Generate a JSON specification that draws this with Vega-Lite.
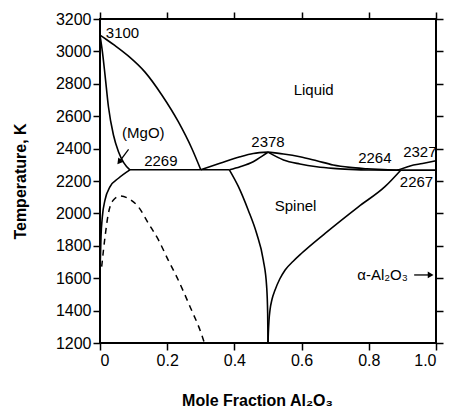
{
  "$schema": "https://vega.github.io/schema/vega-lite/v6.json",
  "width": 336,
  "height": 324,
  "autosize": "none",
  "padding": {"left": 100, "top": 19, "right": 13, "bottom": 66},
  "background": "white",
  "config": {
    "view": {"stroke": "black", "strokeWidth": 2},
    "axis": {
      "grid": false,
      "domain": false,
      "tickColor": "black",
      "tickSize": 7,
      "tickWidth": 1.5,
      "labelColor": "black",
      "labelFont": "Liberation Sans",
      "labelFontSize": 16,
      "labelPadding": 2,
      "titleFont": "Liberation Sans",
      "titleFontWeight": "bold",
      "titleFontSize": 16,
      "titleColor": "black"
    }
  },
  "datasets": {
    "curves": [
      {"c": "liqMgO", "i": 0, "x": 0, "T": 3100},
      {"c": "liqMgO", "i": 1, "x": 0.02, "T": 3072},
      {"c": "liqMgO", "i": 2, "x": 0.045, "T": 3035},
      {"c": "liqMgO", "i": 3, "x": 0.084, "T": 2972},
      {"c": "liqMgO", "i": 4, "x": 0.134, "T": 2872},
      {"c": "liqMgO", "i": 5, "x": 0.184, "T": 2731},
      {"c": "liqMgO", "i": 6, "x": 0.233, "T": 2566},
      {"c": "liqMgO", "i": 7, "x": 0.273, "T": 2402},
      {"c": "liqMgO", "i": 8, "x": 0.30, "T": 2269},
      {"c": "solMgO", "i": 0, "x": 0, "T": 3100},
      {"c": "solMgO", "i": 1, "x": 0.007, "T": 3000},
      {"c": "solMgO", "i": 2, "x": 0.015, "T": 2854},
      {"c": "solMgO", "i": 3, "x": 0.025, "T": 2660},
      {"c": "solMgO", "i": 4, "x": 0.04, "T": 2484},
      {"c": "solMgO", "i": 5, "x": 0.055, "T": 2381},
      {"c": "solMgO", "i": 6, "x": 0.07, "T": 2315},
      {"c": "solMgO", "i": 7, "x": 0.089, "T": 2269},
      {"c": "solvMgO", "i": 6, "x": 0.089, "T": 2269},
      {"c": "solvMgO", "i": 5, "x": 0.055, "T": 2217},
      {"c": "solvMgO", "i": 4, "x": 0.03, "T": 2165},
      {"c": "solvMgO", "i": 3, "x": 0.015, "T": 2083},
      {"c": "solvMgO", "i": 2, "x": 0.007, "T": 1980},
      {"c": "solvMgO", "i": 1, "x": 0.003, "T": 1856},
      {"c": "solvMgO", "i": 0, "x": 0.001, "T": 1712},
      {"c": "eut1", "i": 0, "x": 0.089, "T": 2269},
      {"c": "eut1", "i": 1, "x": 0.385, "T": 2269},
      {"c": "liqSpL", "i": 0, "x": 0.30, "T": 2269},
      {"c": "liqSpL", "i": 1, "x": 0.357, "T": 2309},
      {"c": "liqSpL", "i": 2, "x": 0.417, "T": 2350},
      {"c": "liqSpL", "i": 3, "x": 0.456, "T": 2370},
      {"c": "liqSpL", "i": 4, "x": 0.5, "T": 2378},
      {"c": "solSpL", "i": 0, "x": 0.385, "T": 2269},
      {"c": "solSpL", "i": 1, "x": 0.417, "T": 2288},
      {"c": "solSpL", "i": 2, "x": 0.456, "T": 2319},
      {"c": "solSpL", "i": 3, "x": 0.486, "T": 2358},
      {"c": "solSpL", "i": 4, "x": 0.5, "T": 2378},
      {"c": "liqSpR", "i": 0, "x": 0.5, "T": 2378},
      {"c": "liqSpR", "i": 1, "x": 0.546, "T": 2367},
      {"c": "liqSpR", "i": 2, "x": 0.595, "T": 2350},
      {"c": "liqSpR", "i": 3, "x": 0.645, "T": 2325},
      {"c": "liqSpR", "i": 4, "x": 0.694, "T": 2299},
      {"c": "liqSpR", "i": 5, "x": 0.744, "T": 2284},
      {"c": "liqSpR", "i": 6, "x": 0.794, "T": 2276},
      {"c": "liqSpR", "i": 7, "x": 0.843, "T": 2270},
      {"c": "liqSpR", "i": 8, "x": 0.885, "T": 2266},
      {"c": "solSpR", "i": 0, "x": 0.5, "T": 2378},
      {"c": "solSpR", "i": 1, "x": 0.546, "T": 2330},
      {"c": "solSpR", "i": 2, "x": 0.595, "T": 2305},
      {"c": "solSpR", "i": 3, "x": 0.645, "T": 2288},
      {"c": "solSpR", "i": 4, "x": 0.694, "T": 2278},
      {"c": "solSpR", "i": 5, "x": 0.744, "T": 2272},
      {"c": "solSpR", "i": 6, "x": 0.8, "T": 2268},
      {"c": "solSpR", "i": 7, "x": 0.895, "T": 2267},
      {"c": "liqAl", "i": 0, "x": 0.885, "T": 2266},
      {"c": "liqAl", "i": 1, "x": 0.923, "T": 2293},
      {"c": "liqAl", "i": 2, "x": 0.96, "T": 2308},
      {"c": "liqAl", "i": 3, "x": 1.0, "T": 2325},
      {"c": "eut2", "i": 0, "x": 0.885, "T": 2267},
      {"c": "eut2", "i": 1, "x": 1.0, "T": 2267},
      {"c": "spL", "i": 0, "x": 0.385, "T": 2269},
      {"c": "spL", "i": 1, "x": 0.412, "T": 2165},
      {"c": "spL", "i": 2, "x": 0.441, "T": 2021},
      {"c": "spL", "i": 3, "x": 0.466, "T": 1877},
      {"c": "spL", "i": 4, "x": 0.486, "T": 1712},
      {"c": "spL", "i": 5, "x": 0.496, "T": 1548},
      {"c": "spL", "i": 6, "x": 0.499, "T": 1383},
      {"c": "spL", "i": 7, "x": 0.5, "T": 1200},
      {"c": "spR", "i": 0, "x": 0.5, "T": 1200},
      {"c": "spR", "i": 1, "x": 0.501, "T": 1260},
      {"c": "spR", "i": 2, "x": 0.503, "T": 1340},
      {"c": "spR", "i": 3, "x": 0.506, "T": 1404},
      {"c": "spR", "i": 4, "x": 0.512, "T": 1470},
      {"c": "spR", "i": 5, "x": 0.521, "T": 1527},
      {"c": "spR", "i": 6, "x": 0.535, "T": 1595},
      {"c": "spR", "i": 7, "x": 0.551, "T": 1651},
      {"c": "spR", "i": 8, "x": 0.575, "T": 1705},
      {"c": "spR", "i": 9, "x": 0.6, "T": 1754},
      {"c": "spR", "i": 10, "x": 0.67, "T": 1877},
      {"c": "spR", "i": 11, "x": 0.769, "T": 2041},
      {"c": "spR", "i": 12, "x": 0.848, "T": 2165},
      {"c": "spR", "i": 13, "x": 0.895, "T": 2267}
    ],
    "dashed": [
      {"i": 0, "x": 0.005, "T": 1671},
      {"i": 1, "x": 0.015, "T": 1856},
      {"i": 2, "x": 0.025, "T": 2000},
      {"i": 3, "x": 0.04, "T": 2083},
      {"i": 4, "x": 0.06, "T": 2107},
      {"i": 5, "x": 0.084, "T": 2093},
      {"i": 6, "x": 0.114, "T": 2041},
      {"i": 7, "x": 0.144, "T": 1939},
      {"i": 8, "x": 0.174, "T": 1836},
      {"i": 9, "x": 0.203, "T": 1712},
      {"i": 10, "x": 0.228, "T": 1610},
      {"i": 11, "x": 0.268, "T": 1424},
      {"i": 12, "x": 0.303, "T": 1249},
      {"i": 13, "x": 0.31, "T": 1205}
    ],
    "labels": [
      {"t": "3100", "x": 0.067, "T": 3114},
      {"t": "(MgO)", "x": 0.129, "T": 2494},
      {"t": "2269", "x": 0.181, "T": 2325},
      {"t": "Liquid", "x": 0.636, "T": 2762},
      {"t": "2378", "x": 0.5, "T": 2438},
      {"t": "2264", "x": 0.818, "T": 2340},
      {"t": "2327", "x": 0.952, "T": 2381},
      {"t": "2267", "x": 0.942, "T": 2191},
      {"t": "Spinel", "x": 0.582, "T": 2046},
      {"t": "α-Al₂O₃", "x": 0.841, "T": 1620}
    ],
    "arrows": [
      {"a": "MgO", "i": 0, "x": 0.085, "T": 2395},
      {"a": "MgO", "i": 1, "x": 0.055, "T": 2312},
      {"a": "Al2O3", "i": 0, "x": 0.935, "T": 1620},
      {"a": "Al2O3", "i": 1, "x": 0.985, "T": 1620}
    ],
    "heads": [
      {"a": "MgO", "x": 0.057, "T": 2318},
      {"a": "Al2O3", "x": 0.984, "T": 1620}
    ]
  },
  "resolve": {"axis": {"x": "independent", "y": "independent"}},
  "layer": [
    {
      "data": {"name": "curves"},
      "mark": {"type": "line", "color": "black", "strokeWidth": 1.6, "interpolate": "monotone"},
      "encoding": {
        "x": {
          "field": "x", "type": "quantitative",
          "scale": {"domain": [0, 1], "nice": false, "zero": false},
          "axis": {
            "orient": "bottom",
            "values": [0, 0.2, 0.4, 0.6, 0.8, 1],
            "labelExpr": "datum.value == 0 ? '0' : format(datum.value, '.1f')",
            "title": "Mole Fraction Al₂O₃",
            "titleX": 157,
            "titleY": 62,
            "titleAnchor": null,
            "titleAlign": "center",
            "titleBaseline": "alphabetic"
          }
        },
        "y": {
          "field": "T", "type": "quantitative",
          "scale": {"domain": [1200, 3200], "nice": false, "zero": false},
          "axis": {
            "orient": "left",
            "values": [1200, 1400, 1600, 1800, 2000, 2200, 2400, 2600, 2800, 3000, 3200],
            "format": "d",
            "title": "Temperature, K",
            "titleX": -80,
            "titleY": 162,
            "titleAngle": -90,
            "titleAlign": "center",
            "titleBaseline": "middle"
          }
        },
        "detail": {"field": "c"},
        "order": {"field": "i", "type": "quantitative"}
      }
    },
    {
      "data": {"name": "dashed"},
      "mark": {"type": "line", "color": "black", "strokeWidth": 1.5, "strokeDash": [6, 5], "interpolate": "monotone"},
      "encoding": {
        "x": {
          "field": "x", "type": "quantitative",
          "scale": {"domain": [0, 1], "nice": false, "zero": false},
          "axis": {"orient": "top", "values": [0, 0.2, 0.4, 0.6, 0.8, 1], "labels": false, "title": null}
        },
        "y": {
          "field": "T", "type": "quantitative",
          "scale": {"domain": [1200, 3200], "nice": false, "zero": false},
          "axis": {"orient": "right", "values": [1200, 1400, 1600, 1800, 2000, 2200, 2400, 2600, 2800, 3000, 3200], "labels": false, "title": null}
        },
        "order": {"field": "i", "type": "quantitative"}
      }
    },
    {
      "data": {"name": "arrows"},
      "mark": {"type": "line", "color": "black", "strokeWidth": 1.3},
      "encoding": {
        "x": {"field": "x", "type": "quantitative", "axis": null},
        "y": {"field": "T", "type": "quantitative", "axis": null},
        "detail": {"field": "a"},
        "order": {"field": "i", "type": "quantitative"}
      }
    },
    {
      "data": {"name": "heads"},
      "transform": [{"filter": "datum.a == 'MgO'"}],
      "mark": {"type": "point", "shape": "triangle-up", "filled": true, "color": "black", "opacity": 1, "size": 45, "angle": 218},
      "encoding": {
        "x": {"field": "x", "type": "quantitative", "axis": null},
        "y": {"field": "T", "type": "quantitative", "axis": null}
      }
    },
    {
      "data": {"name": "heads"},
      "transform": [{"filter": "datum.a == 'Al2O3'"}],
      "mark": {"type": "point", "shape": "triangle-right", "filled": true, "color": "black", "opacity": 1, "size": 45},
      "encoding": {
        "x": {"field": "x", "type": "quantitative", "axis": null},
        "y": {"field": "T", "type": "quantitative", "axis": null}
      }
    },
    {
      "data": {"name": "labels"},
      "mark": {"type": "text", "font": "Liberation Sans", "fontSize": 15, "color": "black", "align": "center", "baseline": "middle"},
      "encoding": {
        "x": {"field": "x", "type": "quantitative", "axis": null},
        "y": {"field": "T", "type": "quantitative", "axis": null},
        "text": {"field": "t"}
      }
    }
  ]
}
